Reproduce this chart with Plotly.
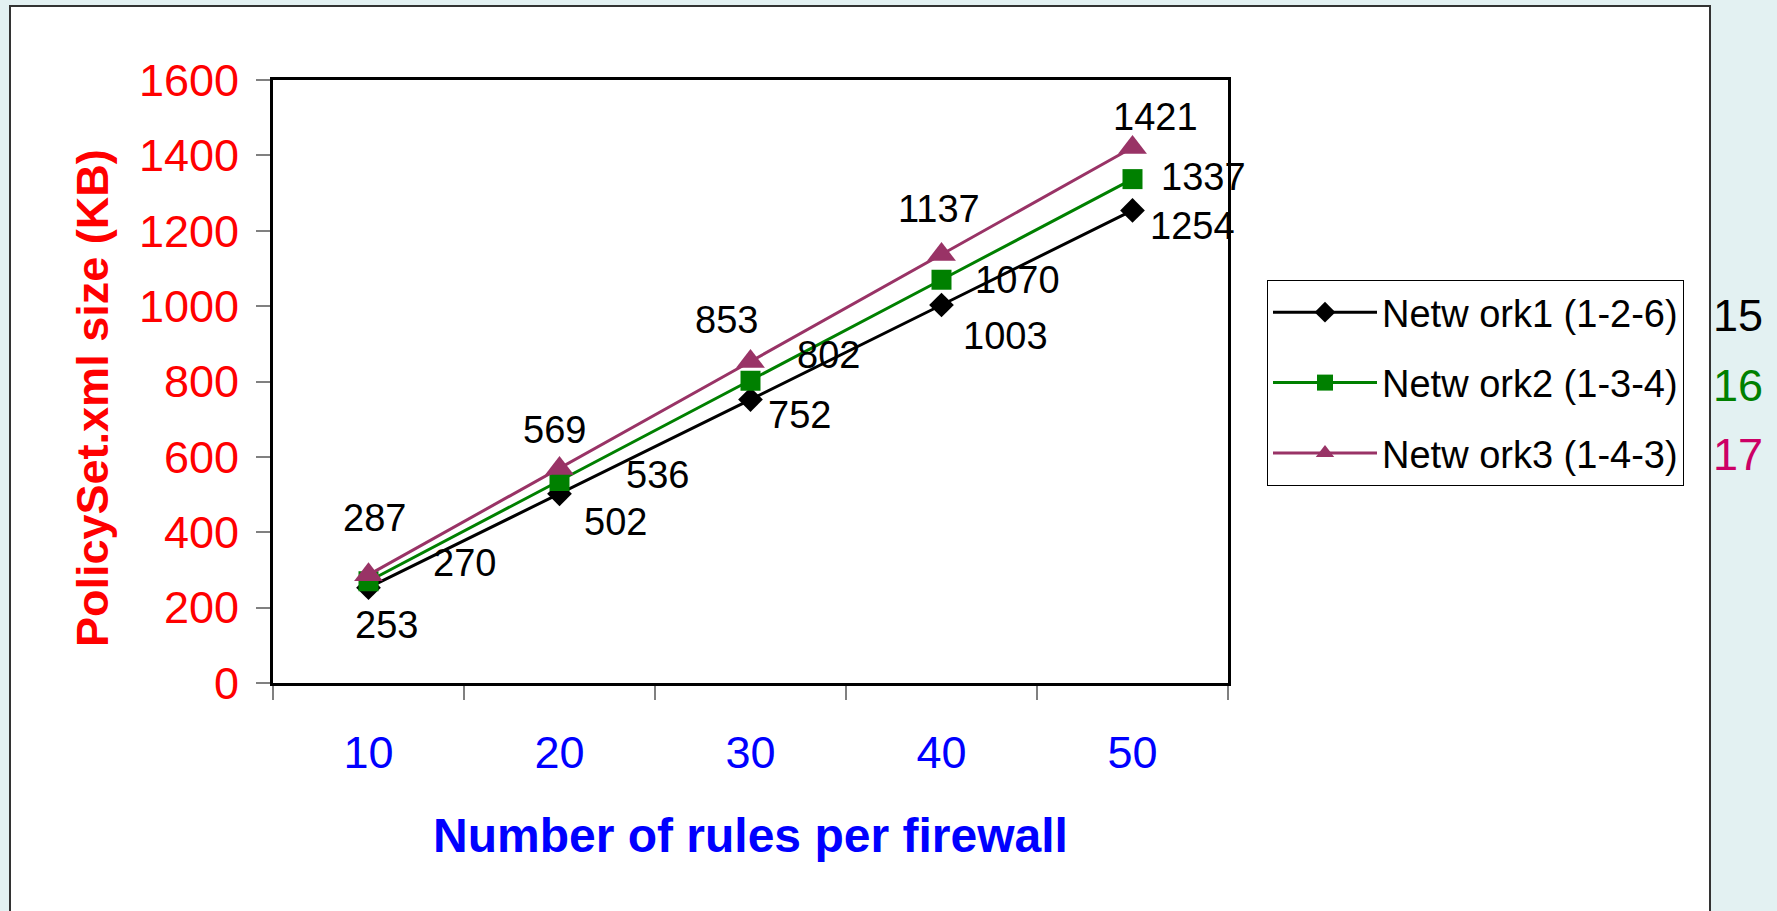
import plotly.graph_objects as go

# ---- data ----
categories = ["10", "20", "30", "40", "50"]
series_names = ["Netw ork1 (1-2-6)", "Netw ork2 (1-3-4)", "Netw ork3 (1-4-3)"]
network1 = [253, 502, 752, 1003, 1254]
network2 = [270, 536, 802, 1070, 1337]
network3 = [287, 569, 853, 1137, 1421]
side_labels = ["15", "16", "17"]
y_ticks = [0, 200, 400, 600, 800, 1000, 1200, 1400, 1600]

# ---- style ----
FONT = "Arial, 'Liberation Sans', sans-serif"
colors = ["#000000", "#008000", "#993366"]
side_colors = ["#000000", "#008000", "#CC0066"]
symbols = ["diamond", "square", "triangle-up"]
msizes = [19, 20, 25]
# data-label offsets (pixels: dx right, dy down) per series / point
label_offsets = [
    [(18, 37), (56, 28), (49, 15), (64, 31), (60, 16)],
    [(96, -18), (98, -6), (78, -26), (76, 0), (71, -2)],
    [(6, -57), (-5, -39), (-24, -42), (-3, -45), (23, -30)],
]

W, H = 1777, 911
L, T, R, B = 273, 80, 1228, 683
pw, ph = R - L, B - T


def px_x(x):
    return (x - L) / pw


def px_y(y):
    return (B - y) / ph


fig = go.Figure()
all_series = [network1, network2, network3]
for i, vals in enumerate(all_series):
    fig.add_trace(go.Scatter(
        x=categories, y=vals, name=series_names[i],
        mode="lines+markers", legendgroup=f"g{i}",
        line=dict(color=colors[i], width=3),
        marker=dict(symbol=symbols[i], size=msizes[i], color=colors[i],
                    line=dict(width=0)),
        cliponaxis=False,
    ))

annotations = []
for i, vals in enumerate(all_series):
    for j, v in enumerate(vals):
        dx, dy = label_offsets[i][j]
        annotations.append(dict(
            x=j, y=v, xref="x", yref="y", text=str(v),
            showarrow=False, xshift=dx, yshift=-dy,
            xanchor="center", yanchor="middle",
            font=dict(family=FONT, size=38, color="black"),
        ))

# axis titles
annotations.append(dict(
    x=px_x(750), y=px_y(835), xref="paper", yref="paper",
    xanchor="center", yanchor="middle",
    text="<b>Number of rules per firewall</b>", showarrow=False,
    font=dict(family=FONT, size=48, color="#0000FF"),
))
annotations.append(dict(
    x=px_x(92), y=px_y(398), xref="paper", yref="paper",
    xanchor="center", yanchor="middle",
    text="<b>PolicySet.xml size (KB)</b>", showarrow=False, textangle=-90,
    font=dict(family=FONT, size=45, color="#FF0000"),
))
# side labels next to legend
for k, s in enumerate(side_labels):
    annotations.append(dict(
        x=px_x(1711), y=px_y(315 + 70 * k), xref="paper", yref="paper",
        xanchor="left", yanchor="middle", text=s, showarrow=False,
        font=dict(family=FONT, size=45, color=side_colors[k]),
    ))

shapes = [dict(
    type="rect", xref="paper", yref="paper", layer="below",
    x0=px_x(10), x1=px_x(1710), y0=px_y(930), y1=px_y(6),
    fillcolor="white", line=dict(color="#333333", width=2),
)]

fig.update_layout(
    width=W, height=H,
    margin=dict(l=L, r=W - R, t=T, b=H - B, pad=0),
    paper_bgcolor="#E3F1F2", plot_bgcolor="white",
    showlegend=True,
    legend=dict(
        x=px_x(1267), y=px_y(280), xanchor="left", yanchor="top",
        bgcolor="white", bordercolor="#000000", borderwidth=1,
        font=dict(family=FONT, size=38, color="black"),
        traceorder="grouped", tracegroupgap=18, itemwidth=104,
    ),
    annotations=annotations, shapes=shapes,
    xaxis=dict(
        type="category", range=[-0.5, len(categories) - 0.5],
        tickson="boundaries", ticks="outside",
        ticklen=14, tickwidth=2, tickcolor="#808080",
        showline=True, linecolor="black", linewidth=3, mirror=True,
        showgrid=False, zeroline=False, tickangle=0,
        tickfont=dict(family=FONT, size=45, color="#0000FF"),
        ticklabelstandoff=28,
    ),
    yaxis=dict(
        range=[0, 1600], tickvals=y_ticks, ticks="outside",
        ticklen=14, tickwidth=2, tickcolor="#808080",
        showline=True, linecolor="black", linewidth=3, mirror=True,
        showgrid=False, zeroline=False,
        tickfont=dict(family=FONT, size=45, color="#FF0000"),
        ticklabelstandoff=8,
    ),
)

fig.write_html("out.html", config={"displayModeBar": False},
               post_script="document.body.style.margin='0';")
